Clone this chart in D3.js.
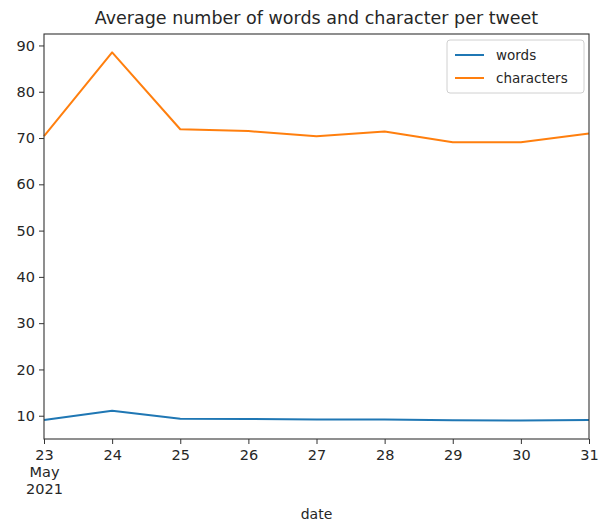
<!DOCTYPE html>
<html><head><meta charset="utf-8">
<script src="https://cdn.jsdelivr.net/npm/d3@7"></script>
<style>body{margin:0;background:#fff;} text{font-family:"DejaVu Sans",sans-serif;fill:#262626;}</style>
</head><body><svg id="c" width="608" height="524"></svg>
<script>
const dates = ["2021-05-23","2021-05-24","2021-05-25","2021-05-26","2021-05-27","2021-05-28","2021-05-29","2021-05-30","2021-05-31"];
const words = [9.1, 11.1, 9.35, 9.3, 9.2, 9.2, 9.0, 8.95, 9.1];
const characters = [70.4, 88.5, 71.9, 71.5, 70.4, 71.4, 69.1, 69.1, 71.0];
const yTicks = [10,20,30,40,50,60,70,80,90];
const seriesNames = ["words","characters"];
const colors = ["#1f77b4","#ff7f0e"];
const title = "Average number of words and character per tweet";
const xLabel = "date";

const svg = d3.select("#c");
const m = {l:44, r:589, t:34, b:439};
const parse = d3.timeParse("%Y-%m-%d");
const xd = dates.map(parse);
const x = d3.scaleTime().domain(d3.extent(xd)).range([m.l, m.r]);
const all = words.concat(characters);
const lo = d3.min(all), hi = d3.max(all), pad = (hi-lo)*0.05;
const y = d3.scaleLinear().domain([lo-pad, hi+pad]).range([m.b, m.t]);

const series = [words, characters];
series.forEach((s,i)=>{
  const line = d3.line().x((d,j)=>x(xd[j])).y(d=>y(d));
  svg.append("path").attr("d", line(s)).attr("fill","none")
    .attr("stroke", colors[i]).attr("stroke-width", 2).attr("stroke-linejoin","round");
});

// frame
svg.append("rect").attr("x",m.l).attr("y",m.t).attr("width",m.r-m.l).attr("height",m.b-m.t)
  .attr("fill","none").attr("stroke","#333").attr("stroke-width",1.1);

// y axis
const ya = svg.append("g").attr("transform",`translate(${m.l},0)`)
  .call(d3.axisLeft(y).tickValues(yTicks).tickSize(5).tickPadding(4));
ya.select(".domain").remove();
ya.selectAll("text").style("font-size","14.5px").attr("fill","#262626");
ya.selectAll("line").attr("stroke","#333");

// x axis
const xa = svg.append("g").attr("transform",`translate(0,${m.b})`)
  .call(d3.axisBottom(x).tickValues(xd).tickSize(5).tickPadding(6).tickFormat(d=>d3.timeFormat("%d")(d)));
xa.select(".domain").remove();
xa.selectAll("line").attr("stroke","#333");
xa.selectAll("text").style("font-size","14.5px").attr("fill","#262626");
xa.selectAll(".tick").filter((d,i)=>i===0).select("text").each(function(){
  const t = d3.select(this);
  t.append("tspan").attr("x",0).attr("dy","1.17em").text("May");
  t.append("tspan").attr("x",0).attr("dy","1.17em").text("2021");
});

svg.append("text").attr("x",(m.l+m.r)/2).attr("y",519).attr("text-anchor","middle")
  .style("font-size","14px").text(xLabel);
svg.append("text").attr("x",(m.l+m.r)/2).attr("y",24).attr("text-anchor","middle")
  .style("font-size","17.5px").text(title);

// legend
const lg = svg.append("g");
lg.append("rect").attr("x",447).attr("y",40).attr("width",137).attr("height",53).attr("rx",3)
  .attr("fill","#fff").attr("fill-opacity",0.8).attr("stroke","#d0d0d0");
seriesNames.forEach((n,i)=>{
  const yy = 55 + i*23;
  lg.append("line").attr("x1",455).attr("x2",484).attr("y1",yy).attr("y2",yy)
    .attr("stroke",colors[i]).attr("stroke-width",2);
  lg.append("text").attr("x",496).attr("y",yy+5).style("font-size","13.5px").text(n);
});
</script></body></html>
